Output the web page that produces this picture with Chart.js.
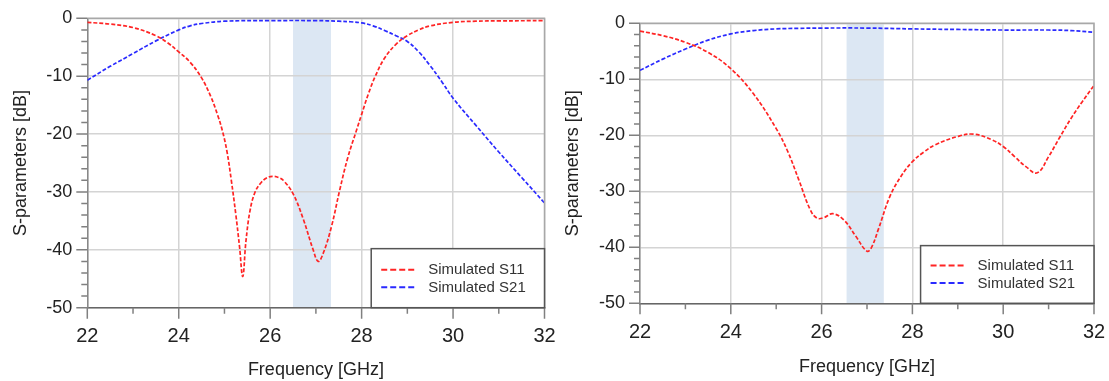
<!DOCTYPE html>
<html><head><meta charset="utf-8">
<script src="https://cdn.jsdelivr.net/npm/chart.js@4.4.0/dist/chart.umd.min.js"></script>
<style>
html,body{margin:0;padding:0;background:#fff;}
body{width:1109px;height:381px;position:relative;overflow:hidden;}
.w{position:absolute;top:0;height:381px;}
#w1{left:0;width:560px;}
#w2{left:560px;width:549px;}
</style></head><body>
<div class="w" id="w1"><canvas id="c1"></canvas></div>
<div class="w" id="w2"><canvas id="c2"></canvas></div>
<script>
// ---------- data ----------
const seriesNames = ['Simulated S11', 'Simulated S21'];
const xTickRange = [22, 32];
const yTickRange = [-50, 0];

// Left panel
const leftS11Freq = [22, 22.5, 23, 23.5, 23.75, 24, 24.25, 24.5, 24.7, 24.85, 24.95, 25.05, 25.15, 25.25, 25.33, 25.4, 25.47, 25.56, 25.67, 25.8, 25.92, 26.05, 26.18, 26.3, 26.5, 26.72, 26.94, 27.05, 27.16, 27.34, 27.52, 27.7, 27.89, 28.0, 28.15, 28.3, 28.5, 28.75, 29.0, 29.25, 29.5, 30.0, 30.5, 31.0, 32.0];
const leftS11 =     [-0.7, -1.0, -1.6, -3.0, -4.2, -5.8, -7.6, -10.3, -13.5, -16.7, -19.3, -22.8, -28.0, -34.0, -39.5, -44.6, -38.5, -33.2, -30.0, -28.4, -27.6, -27.3, -27.5, -28.1, -30.3, -34.6, -40.0, -42.0, -40.6, -36.0, -29.7, -24.0, -19.3, -16.6, -13.0, -10.0, -6.9, -4.5, -3.0, -2.0, -1.3, -0.7, -0.5, -0.45, -0.4];
const leftS21Freq = [22, 22.5, 23, 23.5, 24, 24.25, 24.5, 25, 26, 27, 27.5, 27.75, 28, 28.25, 28.5, 28.75, 29, 29.25, 29.5, 29.75, 30, 30.5, 31, 31.5, 32];
const leftS21 =     [-10.7, -8.3, -6.1, -3.9, -2.0, -1.3, -0.9, -0.5, -0.4, -0.4, -0.5, -0.6, -0.8, -1.3, -2.1, -3.0, -4.0, -5.8, -8.2, -10.9, -13.8, -18.5, -23.1, -27.5, -31.9];
const leftBand = [26.5, 27.33];

// Right panel
const rightS11Freq = [22, 22.5, 23, 23.5, 24, 24.5, 25, 25.25, 25.5, 25.75, 25.9, 26.05, 26.25, 26.5, 26.75, 27.0, 27.1, 27.25, 27.5, 27.75, 28, 28.25, 28.5, 29, 29.35, 29.75, 30, 30.25, 30.5, 30.75, 31, 31.25, 31.5, 31.75, 32];
const rightS11 =     [-1.4, -2.2, -3.4, -5.2, -8.1, -12.6, -18.8, -22.8, -28.0, -33.3, -34.8, -34.7, -34.0, -35.2, -38.0, -40.7, -40.0, -36.8, -31.0, -27.3, -24.7, -23.0, -21.7, -20.2, -19.8, -20.8, -22.0, -23.8, -25.6, -26.7, -23.8, -20.3, -16.9, -13.9, -11.1];
const rightS21Freq = [22, 22.5, 23, 23.5, 24, 24.5, 25, 25.5, 26, 27, 28, 29, 30, 31, 31.5, 32];
const rightS21 =     [-8.4, -6.4, -4.6, -3.0, -1.9, -1.3, -1.0, -0.9, -0.85, -0.85, -1.0, -1.1, -1.2, -1.2, -1.3, -1.6];
const rightBand = [26.55, 27.37];

// ---------- drawing ----------
const FONT = "'Liberation Sans', Arial, sans-serif";
const RED = '#ff2424', BLUE = '#2a2aff';
const pts = (xs, ys) => xs.map((v, i) => ({x: v, y: ys[i]}));

const decor = {
  id: 'decor',
  beforeDraw(chart, args, o) {
    const {ctx, chartArea: a, scales: {x}} = chart;
    ctx.save();
    ctx.fillStyle = '#dce7f3';
    const x0 = x.getPixelForValue(o.band[0]), x1 = x.getPixelForValue(o.band[1]);
    ctx.fillRect(x0, a.top, x1 - x0, a.bottom - a.top);
    ctx.restore();
  },
  afterDatasetsDraw(chart, args, o) {
    const {ctx, chartArea: a, scales: {x, y}} = chart;
    ctx.save();
    ctx.strokeStyle = '#a8a8a8'; ctx.lineWidth = 1.5;
    ctx.beginPath(); ctx.moveTo(a.left, a.top); ctx.lineTo(a.right, a.top); ctx.lineTo(a.right, a.bottom); ctx.stroke();
    ctx.strokeStyle = '#808080'; ctx.lineWidth = 1.5;
    ctx.beginPath();
    for (let v = xTickRange[0]; v <= xTickRange[1]; v += 1) {
      const px = x.getPixelForValue(v), len = v % 2 === 0 ? 11 : 6;
      ctx.moveTo(px, a.bottom); ctx.lineTo(px, a.bottom + len);
    }
    for (let v = yTickRange[0]; v <= yTickRange[1]; v += 2) {
      const py = y.getPixelForValue(v), len = v % 10 === 0 ? 11 : 6;
      ctx.moveTo(a.left, py); ctx.lineTo(a.left - len, py);
    }
    ctx.stroke();
    const lx = x.getPixelForValue(o.legendX), ly = y.getPixelForValue(o.legendY);
    ctx.fillStyle = '#fff';
    ctx.fillRect(lx, ly, a.right - lx, a.bottom - ly);
    ctx.strokeStyle = '#555'; ctx.lineWidth = 1.5;
    ctx.strokeRect(lx, ly, a.right - lx, a.bottom - ly);
    chart.data.datasets.forEach((d, i) => {
      const yy = ly + o.legendFirst + i * 17.5;
      ctx.strokeStyle = d.borderColor; ctx.lineWidth = 2;
      ctx.setLineDash([6, 3]);
      ctx.beginPath(); ctx.moveTo(lx + 10, yy); ctx.lineTo(lx + 45, yy); ctx.stroke();
      ctx.setLineDash([]);
      ctx.fillStyle = '#333'; ctx.font = '15px ' + FONT; ctx.textBaseline = 'middle'; ctx.textAlign = 'left';
      ctx.fillText(d.label, lx + 57, yy + 0.5);
    });
    ctx.restore();
  }
};

function makeChart(id, g) {
  return new Chart(document.getElementById(id), {
    type: 'line',
    data: {
      datasets: [
        {label: seriesNames[0], data: pts(g.f11, g.s11), borderColor: RED},
        {label: seriesNames[1], data: pts(g.f21, g.s21), borderColor: BLUE}
      ].map(d => Object.assign(d, {borderWidth: 1.7, borderDash: [4, 2], pointRadius: 0, fill: false, tension: 0.4}))
    },
    options: {
      responsive: true, maintainAspectRatio: false, animation: false, devicePixelRatio: 1,
      layout: {padding: {left: 0, right: g.R, top: g.T, bottom: 0}},
      plugins: {
        legend: {display: false}, tooltip: {enabled: false},
        decor: {band: g.band, legendX: g.legendX, legendY: g.legendY, legendFirst: g.legendFirst}
      },
      scales: {
        x: {
          type: 'linear', min: xTickRange[0], max: xTickRange[1],
          afterFit: s => { s.height = g.H; },
          ticks: {stepSize: 1, autoSkip: false, maxRotation: 0, padding: 0, color: '#222',
                  font: {family: FONT, size: 20}, callback: v => (v % 2 === 0 ? v : '')},
          grid: {drawTicks: true, tickLength: g.xpad, tickColor: 'rgba(0,0,0,0)', lineWidth: 1.5,
                 color: c => (c.tick && c.tick.value % 2 === 0 ? '#d4d4d4' : 'rgba(0,0,0,0)')},
          border: {color: '#666', width: 1.5},
          title: {display: true, text: 'Frequency [GHz]', color: '#222', font: {family: FONT, size: 18}, padding: {top: 0, bottom: g.xtb}}
        },
        y: {
          type: 'linear', min: yTickRange[0], max: yTickRange[1],
          afterFit: s => { s.width = g.W; },
          ticks: {stepSize: 2, autoSkip: false, padding: 0, color: '#222',
                  font: {family: FONT, size: 18}, callback: v => (v % 10 === 0 ? v : '')},
          grid: {drawTicks: true, tickLength: 15, tickColor: 'rgba(0,0,0,0)', lineWidth: 1.5,
                 color: c => (c.tick && c.tick.value % 10 === 0 ? '#d4d4d4' : 'rgba(0,0,0,0)')},
          border: {color: '#888', width: 1.5},
          title: {display: true, text: 'S-parameters [dB]', color: '#222', font: {family: FONT, size: 18}, padding: {top: g.ytp, bottom: 0}}
        }
      }
    },
    plugins: [decor]
  });
}

makeChart('c1', {f11: leftS11Freq, s11: leftS11, f21: leftS21Freq, s21: leftS21, band: leftBand,
  R: 15.5, T: 18.3, W: 87.3, H: 73.3, xpad: 17, xtb: 0, ytp: 10,
  legendX: 28.21, legendY: -39.8, legendFirst: 21});
makeChart('c2', {f11: rightS11Freq, s11: rightS11, f21: rightS21Freq, s21: rightS21, band: rightBand,
  R: 15, T: 23.3, W: 80, H: 77.7, xpad: 17, xtb: 3, ytp: 2,
  legendX: 28.18, legendY: -39.7, legendFirst: 20});
</script>
</body></html>
